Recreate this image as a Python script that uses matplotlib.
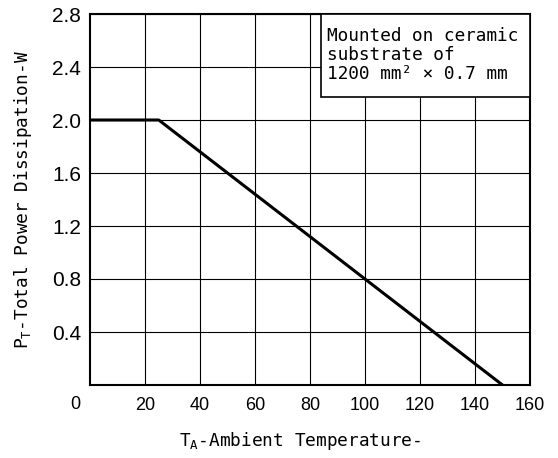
import matplotlib
matplotlib.use("Agg")
import matplotlib.pyplot as plt
from matplotlib.patches import Rectangle

# datos de la curva de derating
temp_c   = [0, 25, 150]
power_w  = [2.0, 2.0, 0.0]

x_ticks  = [20, 40, 60, 80, 100, 120, 140, 160]
y_ticks  = [0.4, 0.8, 1.2, 1.6, 2.0, 2.4, 2.8]
y_labels = ["0.4", "0.8", "1.2", "1.6", "2.0", "2.4", "2.8"]

MONO = "DejaVu Sans Mono"
SANS = "Liberation Sans"

fig = plt.figure(figsize=(5.58, 4.58), dpi=100)
ax = fig.add_axes([90 / 558, 1 - 385 / 458, 440 / 558, 371 / 458])

ax.set_xlim(0, 160)
ax.set_ylim(0, 2.8)
ax.set_xticks(x_ticks)
ax.set_xticklabels([str(t) for t in x_ticks], fontfamily=SANS, fontsize=13)
ax.set_yticks(y_ticks)
ax.set_yticklabels(y_labels, fontfamily=SANS, fontsize=15)
ax.tick_params(axis="x", length=0, pad=8.5)
ax.tick_params(axis="y", length=0, pad=6.5)
ax.grid(True, color="black", linewidth=0.8)
ax.set_axisbelow(True)
for sp in ax.spines.values():
    sp.set_linewidth(1.5)

ax.plot(temp_c, power_w, color="black", linewidth=2.2, zorder=3)

# cuadro con la nota del sustrato
ax.add_patch(Rectangle((0.525, 0.776), 0.475, 0.224, transform=ax.transAxes,
                       facecolor="white", edgecolor="black", linewidth=1.2,
                       zorder=4, clip_on=False))
ax.text(0.539, 0.965, "Mounted on ceramic\nsubstrate of\n1200 mm² × 0.7 mm",
        transform=ax.transAxes, ha="left", va="top", fontfamily=MONO,
        fontsize=12.8, linespacing=1.08, zorder=5)

# "0" de la esquina
fig.text(75 / 558, 1 - 396 / 458, "0", ha="center", va="top",
         fontfamily=SANS, fontsize=13)

fig.text(23 / 558, 1 - 200 / 458, r"P$_\mathregular{T}$-Total Power Dissipation-W",
         rotation=90, ha="center", va="center", fontfamily=MONO, fontsize=12.8)
fig.text(300 / 558, 1 - 441 / 458, r"T$_\mathregular{A}$-Ambient Temperature-",
         ha="center", va="center", fontfamily=MONO, fontsize=12.8)

fig.savefig("out.png", dpi=100)
